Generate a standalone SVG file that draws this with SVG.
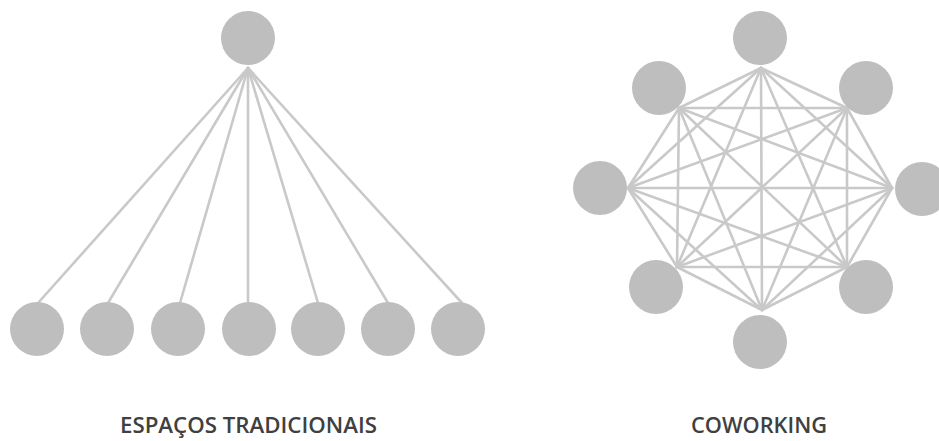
<svg xmlns="http://www.w3.org/2000/svg" width="939" height="441" viewBox="0 0 939 441">
<style>
.n{fill:#bebebe}
.e{stroke:#c9c9c9;stroke-width:2.6;fill:none;stroke-linecap:round}
.t{font-family:"Open Sans","Noto Sans","Liberation Sans",sans-serif;font-size:21px;font-weight:600;fill:#404040}
</style>
<rect width="939" height="441" fill="#ffffff"/>
<g id="connectors">
<g id="left-edges" class="e">
<line x1="248" y1="68" x2="38" y2="303"/>
<line x1="248" y1="68" x2="108" y2="303"/>
<line x1="248" y1="68" x2="180" y2="303"/>
<line x1="248" y1="68" x2="248" y2="303"/>
<line x1="248" y1="68" x2="318" y2="303"/>
<line x1="248" y1="68" x2="388" y2="303"/>
<line x1="248" y1="68" x2="462" y2="303"/>
</g>
<g id="right-edges" class="e">
<line x1="761" y1="68" x2="679" y2="108"/>
<line x1="761" y1="68" x2="847" y2="108"/>
<line x1="761" y1="68" x2="628" y2="188"/>
<line x1="761" y1="68" x2="892" y2="188"/>
<line x1="761" y1="68" x2="677" y2="267"/>
<line x1="761" y1="68" x2="847" y2="267"/>
<line x1="761" y1="68" x2="762" y2="310"/>
<line x1="679" y1="108" x2="847" y2="108"/>
<line x1="679" y1="108" x2="628" y2="188"/>
<line x1="679" y1="108" x2="892" y2="188"/>
<line x1="679" y1="108" x2="677" y2="267"/>
<line x1="679" y1="108" x2="847" y2="267"/>
<line x1="679" y1="108" x2="762" y2="310"/>
<line x1="847" y1="108" x2="628" y2="188"/>
<line x1="847" y1="108" x2="892" y2="188"/>
<line x1="847" y1="108" x2="677" y2="267"/>
<line x1="847" y1="108" x2="847" y2="267"/>
<line x1="847" y1="108" x2="762" y2="310"/>
<line x1="628" y1="188" x2="892" y2="188"/>
<line x1="628" y1="188" x2="677" y2="267"/>
<line x1="628" y1="188" x2="847" y2="267"/>
<line x1="628" y1="188" x2="762" y2="310"/>
<line x1="892" y1="188" x2="677" y2="267"/>
<line x1="892" y1="188" x2="847" y2="267"/>
<line x1="892" y1="188" x2="762" y2="310"/>
<line x1="677" y1="267" x2="847" y2="267"/>
<line x1="677" y1="267" x2="762" y2="310"/>
<line x1="847" y1="267" x2="762" y2="310"/>
</g>
</g>
<g id="left-top"><circle class="n" cx="248" cy="38" r="27"/></g>
<g id="left-1"><circle class="n" cx="37" cy="329" r="27"/></g>
<g id="left-2"><circle class="n" cx="107" cy="329" r="27"/></g>
<g id="left-3"><circle class="n" cx="178" cy="329" r="27"/></g>
<g id="left-4"><circle class="n" cx="249" cy="329" r="27"/></g>
<g id="left-5"><circle class="n" cx="318" cy="329" r="27"/></g>
<g id="left-6"><circle class="n" cx="388" cy="329" r="27"/></g>
<g id="left-7"><circle class="n" cx="458" cy="329" r="27"/></g>
<g id="right-top"><circle class="n" cx="760" cy="38" r="27"/></g>
<g id="right-topleft"><circle class="n" cx="659" cy="88" r="27"/></g>
<g id="right-topright"><circle class="n" cx="866" cy="88" r="27"/></g>
<g id="right-left"><circle class="n" cx="600" cy="188" r="27"/></g>
<g id="right-right"><circle class="n" cx="922" cy="189" r="27"/></g>
<g id="right-bottomleft"><circle class="n" cx="656" cy="287" r="27"/></g>
<g id="right-bottomright"><circle class="n" cx="866" cy="287" r="27"/></g>
<g id="right-bottom"><circle class="n" cx="760" cy="342" r="27"/></g>
<g id="labels">
<text class="t" x="120" y="433" textLength="257" lengthAdjust="spacingAndGlyphs">ESPAÇOS TRADICIONAIS</text>
<text class="t" x="691" y="433" textLength="136" lengthAdjust="spacingAndGlyphs">COWORKING</text>
</g>
</svg>
